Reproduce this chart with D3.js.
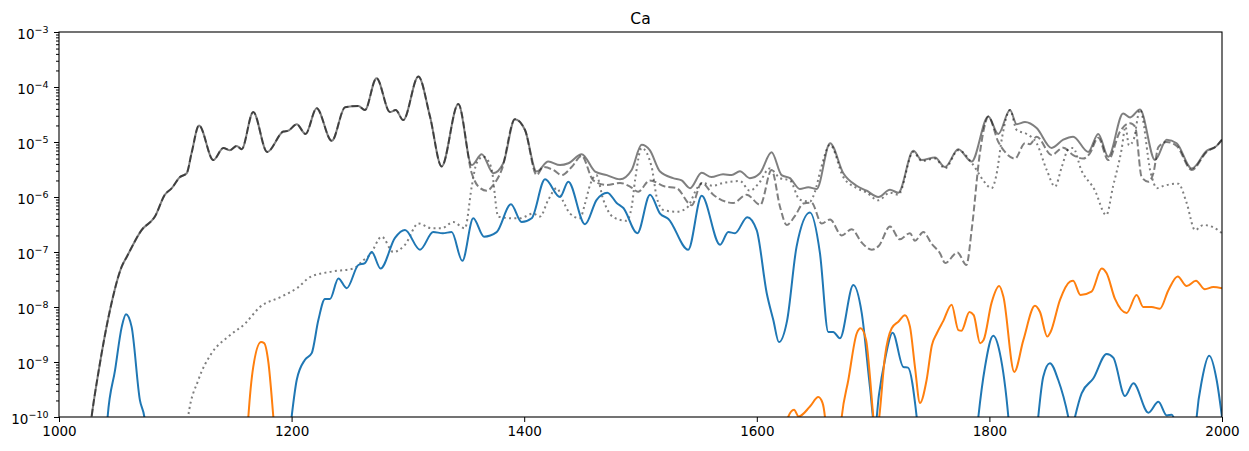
<html>
<head>
<script src="https://d3js.org/d3.v7.min.js"></script>
<style>
  body { margin: 0; background: white; }
  text { font-family: "DejaVu Sans", sans-serif; }
</style>
</head>
<body>
<svg id="chart" width="1249" height="451"></svg>
<script>
// shared start of the total and the dashed curve (they overlap until ~1345)
const sharedPts = [[1025, 3e-11], [1028, 1e-10], [1033.8, 6.3e-10], [1043.9, 8.9e-9], [1053.9, 5.4e-8], [1058.2, 8.1e-8],
  [1071, 2.5e-7], [1082.5, 4.4e-7], [1091, 1.1e-6], [1097, 1.45e-6], [1104, 2.3e-6], [1109.8, 2.7e-6], [1114, 6.3e-6],
  [1120.4, 2.0e-5], [1132.7, 4.7e-6], [1141.3, 7.8e-6], [1147, 7.1e-6], [1152.8, 8.5e-6], [1157, 7.4e-6], [1167, 3.5e-5],
  [1179, 6.6e-6], [1192.9, 1.55e-5], [1197, 1.6e-5], [1204.4, 2.1e-5], [1212, 1.4e-5], [1221.5, 4.1e-5], [1234.5, 1.05e-5],
  [1246, 4.3e-5], [1257.4, 4.5e-5], [1263, 3.8e-5], [1273, 1.45e-4], [1284.6, 3.5e-5], [1289.5, 3.8e-5], [1296, 2.5e-5],
  [1309, 1.55e-4], [1319, 2.9e-5], [1329, 3.6e-6], [1343.3, 4.9e-5]];

const totalTail = [[1354.9, 3.8e-6], [1363.5, 6.0e-6], [1373.4, 2.7e-6], [1382, 4.1e-6], [1392, 2.6e-5], [1400.7, 1.65e-5],
  [1410.7, 2.9e-6], [1420.7, 4.4e-6], [1430.8, 3.8e-6], [1438, 4.1e-6], [1449.4, 6.0e-6], [1461, 2.9e-6], [1471, 2.5e-6],
  [1482.4, 2.1e-6], [1492.4, 3.1e-6], [1501, 8.9e-6], [1508, 7.1e-6], [1516.8, 2.9e-6], [1528, 2.2e-6], [1535.4, 2.0e-6],
  [1542.6, 1.45e-6], [1552.6, 2.75e-6], [1561, 2.3e-6], [1571, 2.6e-6], [1578.4, 2.5e-6], [1585.5, 2.95e-6], [1594, 2.2e-6],
  [1602.7, 2.7e-6], [1612.7, 6.5e-6], [1621.3, 2.5e-6], [1628.5, 2.2e-6], [1637, 1.4e-6], [1644.3, 1.5e-6], [1651.5, 1.4e-6],
  [1663, 9.5e-6], [1674.4, 2.7e-6], [1685.8, 1.6e-6], [1694.5, 1.3e-6], [1704.5, 1.0e-6], [1714.5, 1.35e-6], [1721.7, 1.2e-6],
  [1734.6, 6.9e-6], [1741.8, 4.7e-6], [1753.2, 5.2e-6], [1761.8, 3.5e-6], [1773.3, 7.4e-6], [1784.7, 4.4e-6], [1799, 2.9e-5],
  [1807.7, 1.4e-5], [1817.7, 3.8e-5], [1823.5, 2.1e-5], [1830.6, 2.3e-5], [1840.6, 1.8e-5], [1853.5, 7.8e-6], [1863.5, 1.1e-5],
  [1872, 1.25e-5], [1885, 6.6e-6], [1893.6, 1.4e-5], [1902.2, 5.4e-6], [1915, 3.3e-5], [1921, 2.8e-5], [1929.5, 3.9e-5],
  [1942.4, 4.7e-6], [1952.4, 1.1e-5], [1961, 9.5e-6], [1974, 3.3e-6], [1986.8, 6.9e-6], [1995.4, 8.5e-6], [2000, 1.1e-5]];

const dashedTail = [[1354.9, 2.7e-6], [1360.6, 1.55e-6], [1367.8, 1.3e-6], [1373.4, 1.65e-6], [1380.6, 3.1e-6], [1392, 2.6e-5],
  [1400.7, 1.65e-5], [1410.7, 2.5e-6], [1416.4, 3.5e-6], [1425, 3.1e-6], [1432.2, 2.5e-6], [1440.8, 3.5e-6], [1449.4, 5.6e-6],
  [1459.4, 2.0e-6], [1470.9, 1.65e-6], [1482.4, 1.8e-6], [1491, 1.55e-6], [1498, 1.25e-6], [1508, 2.0e-6], [1521, 1.55e-6],
  [1531, 1.45e-6], [1544, 7.1e-7], [1552.6, 1.8e-6], [1562.6, 1.1e-6], [1579.8, 7.8e-7], [1591.3, 1.1e-6], [1603, 7.2e-7],
  [1612.7, 3.1e-6], [1620, 6.6e-7], [1625.7, 3.1e-7], [1633, 4.6e-7], [1640, 7.6e-7], [1647, 7.9e-7], [1655.8, 3.3e-7],
  [1663, 3.9e-7], [1673, 2.0e-7], [1681.6, 2.6e-7], [1690, 1.5e-7], [1698.8, 1.1e-7], [1705, 1.3e-7], [1714.5, 2.9e-7],
  [1723, 1.7e-7], [1731.7, 2.2e-7], [1736, 1.6e-7], [1743.2, 2.3e-7], [1750.4, 1.4e-7], [1757.5, 9.5e-8], [1762, 6.3e-8],
  [1772.5, 9.8e-8], [1780.2, 5.8e-8], [1785, 2.8e-7], [1791.5, 5.6e-6], [1796.5, 2.2e-5], [1799, 2.9e-5], [1807.7, 1.0e-5],
  [1813.4, 6.6e-6], [1822, 5.0e-6], [1830.6, 9.5e-6], [1834.9, 9.1e-6], [1840.6, 1.25e-5], [1853.5, 5.8e-6], [1863.5, 7.9e-6],
  [1872, 5.8e-6], [1880.6, 5.0e-6], [1886.4, 6.2e-6], [1893.6, 1.2e-5], [1902.2, 4.7e-6], [1912.3, 1.55e-5], [1921, 2.2e-5],
  [1925.3, 1.9e-5], [1930.9, 2.3e-6], [1936.6, 1.9e-6], [1941, 2.7e-6], [1945.3, 8.1e-6], [1952.4, 1.0e-5], [1961, 8.5e-6],
  [1974, 3.1e-6], [1986.8, 6.6e-6], [1995.4, 8.5e-6], [2000, 1.1e-5]];

const dottedPts = [[1108, 3e-11], [1111, 1e-10], [1119.8, 4.7e-10], [1131.3, 1.45e-9], [1145.6, 2.9e-9], [1160, 5.0e-9],
  [1172.8, 1.0e-8], [1191.5, 1.55e-8], [1205.8, 2.3e-8], [1215.8, 3.5e-8], [1234.5, 4.4e-8], [1253, 5.0e-8], [1261.7, 7.1e-8],
  [1267.4, 8.9e-8], [1277.5, 1.9e-7], [1287.4, 1.0e-7], [1297.5, 1.35e-7], [1309, 3.3e-7], [1320.4, 2.7e-7], [1329, 2.7e-7],
  [1339, 3.5e-7], [1349, 2.7e-7], [1354.9, 1.55e-6], [1359, 4.1e-6], [1364.8, 5.4e-6], [1371.6, 3.5e-6], [1377.7, 4.4e-7],
  [1390.6, 4.1e-7], [1396.4, 4.1e-7], [1407.8, 5.0e-7], [1413.6, 4.4e-7], [1420.7, 8.9e-7], [1428, 1.45e-6], [1433.6, 8.3e-7],
  [1439.4, 5.0e-7], [1448, 4.1e-7], [1452.3, 7.6e-7], [1456.6, 1.65e-6], [1462, 2.5e-6], [1468, 8.9e-7], [1476.6, 4.3e-7],
  [1488, 3.7e-7], [1492.4, 6.6e-7], [1495.3, 2.0e-6], [1501, 7.8e-6], [1509.6, 3.5e-6], [1513.9, 1.0e-6], [1519.6, 5.8e-7],
  [1531, 5.4e-7], [1539.7, 6.3e-7], [1549.7, 1.55e-6], [1554, 1.8e-6], [1562, 1.6e-6], [1571, 1.8e-6], [1585.5, 1.95e-6],
  [1594, 1.3e-6], [1602, 1.8e-6], [1611, 3.3e-6], [1620, 2.2e-6], [1628.5, 2.0e-6], [1637, 8.9e-7], [1645.7, 8.3e-7],
  [1650, 1.25e-6], [1655, 3.2e-6], [1663, 8.9e-6], [1674.4, 2.3e-6], [1685.8, 1.45e-6], [1694.5, 1.2e-6], [1704.5, 8.7e-7],
  [1714.5, 1.2e-6], [1721.7, 1.1e-6], [1734.6, 6.6e-6], [1741.8, 4.5e-6], [1753.2, 5.0e-6], [1761.8, 3.3e-6], [1773.3, 7.1e-6],
  [1784.7, 4.2e-6], [1789, 3.1e-6], [1794.7, 2.0e-6], [1801.9, 1.45e-6], [1806, 2.5e-6], [1811, 1.25e-5], [1817.7, 3.8e-5],
  [1823.5, 1.65e-5], [1832, 1.4e-5], [1840.6, 9.5e-6], [1849.3, 3.1e-6], [1856.4, 1.55e-6], [1862.2, 3.5e-6], [1867.9, 7.4e-6],
  [1872, 7.8e-6], [1879, 3.1e-6], [1890.5, 1.35e-6], [1900.5, 4.7e-7], [1906.3, 1.55e-6], [1913.7, 7.4e-6], [1917, 1.9e-5],
  [1920, 8.7e-6], [1924, 1.1e-5], [1929.5, 3.9e-5], [1938.8, 2.7e-6], [1944, 1.45e-6], [1950, 1.6e-6], [1962.4, 1.75e-6],
  [1969.6, 7.8e-7], [1976.8, 2.5e-7], [1984, 3.1e-7], [1992.7, 2.8e-7], [2000, 2.2e-7]];

const bluePts = [[1040, 3e-11], [1041.8, 1e-10], [1048.2, 7.1e-10], [1054, 4.4e-9], [1057.6, 7.4e-9], [1062.4, 4.4e-9],
  [1069.6, 2.0e-10], [1073.4, 1e-10], [1078, 1e-11], [1195, 1e-11], [1200, 1e-10], [1204.4, 4.7e-10], [1211.5, 1.1e-9],
  [1217.3, 1.45e-9], [1223, 5.8e-9], [1228.7, 1.4e-8], [1233, 1.4e-8], [1240.2, 3.3e-8], [1247.4, 2.2e-8], [1257.4, 5.8e-8],
  [1263, 6.3e-8], [1268.9, 1.0e-7], [1276.5, 5.0e-8], [1288.9, 1.8e-7], [1297.5, 2.5e-7], [1310.4, 1.1e-7], [1321.8, 2.3e-7],
  [1330, 2.2e-7], [1337.6, 2.3e-7], [1346.8, 6.9e-8], [1356.2, 4.1e-7], [1365.4, 1.9e-7], [1376.3, 2.3e-7], [1388.6, 7.4e-7],
  [1397.8, 3.5e-7], [1406.4, 4.1e-7], [1417.9, 2.1e-6], [1430.8, 1.0e-6], [1437.9, 1.9e-6], [1452.3, 3.2e-7], [1462.3, 8.9e-7],
  [1471.5, 1.2e-6], [1479.5, 7.8e-7], [1485.3, 6.3e-7], [1497.3, 2.2e-7], [1508.2, 1.1e-6], [1516.8, 5.0e-7], [1524, 4.0e-7],
  [1541, 1.1e-7], [1552.6, 1.05e-6], [1568.4, 1.35e-7], [1575.5, 2.3e-7], [1581.3, 2.2e-7], [1591.8, 4.3e-7], [1599.9, 2.5e-7],
  [1608.5, 1.8e-8], [1614.2, 5.8e-9], [1619, 2.3e-9], [1626, 5.6e-9], [1634.2, 1.25e-7], [1645.7, 5.2e-7], [1654.3, 9.5e-8],
  [1661.5, 3.5e-9], [1665.7, 3.5e-9], [1671.5, 2.7e-9], [1683, 2.5e-8], [1690.2, 7.8e-9], [1697.3, 3.5e-10], [1701.6, 6.3e-11],
  [1705, 2.5e-10], [1710.2, 1.1e-9], [1716.8, 3.4e-9], [1726, 8.1e-10], [1730, 7.9e-10], [1737.5, 1e-10], [1742, 1e-11],
  [1786, 1e-11], [1790.5, 1e-10], [1796.2, 8.1e-10], [1803.3, 3.0e-9], [1809, 1.45e-9], [1816.3, 1e-10], [1820, 1e-11],
  [1838, 1e-11], [1842, 1e-10], [1846.3, 5.4e-10], [1852, 9.5e-10], [1859.2, 4.7e-10], [1867.8, 1e-10], [1870.5, 5e-11],
  [1873.6, 1e-10], [1879.3, 2.7e-10], [1889.3, 5.0e-10], [1900.8, 1.4e-9], [1906.5, 1.2e-9], [1916.6, 2.4e-10], [1923.8, 4.1e-10],
  [1936.7, 1.2e-10], [1945.3, 1.9e-10], [1952.5, 1.07e-10], [1956.8, 1.1e-10], [1960, 8e-11], [1975, 1e-11], [1978.2, 1e-10],
  [1983, 5e-10], [1989, 1.3e-9], [1995.4, 4.7e-10], [2000, 1e-10]];

const orangePts = [[1160, 1e-11], [1162.8, 1e-10], [1167, 8.1e-10], [1173.7, 2.3e-9], [1176.4, 2.2e-9], [1180, 1.0e-9],
  [1184.3, 1e-10], [1188, 1e-11], [1622, 1e-11], [1627, 1e-10], [1632, 1.35e-10], [1636, 1.02e-10], [1645.7, 1.55e-10],
  [1652.9, 2.3e-10], [1656.5, 1.8e-10], [1658.6, 1e-10], [1662, 1e-11], [1669, 1e-11], [1673, 1e-10], [1678.7, 4.7e-10],
  [1685.9, 3.3e-9], [1689.3, 4.1e-9], [1694, 2.5e-9], [1697.3, 5.4e-10], [1700.2, 1e-10], [1702.7, 4e-11], [1705.3, 1e-10],
  [1710.2, 1.25e-9], [1716, 4.1e-9], [1721.7, 5.4e-9], [1727.4, 7.1e-9], [1731.7, 4.4e-9], [1736, 8.1e-10], [1740.3, 1.8e-10],
  [1746, 4.7e-10], [1750.5, 2.0e-9], [1754.7, 3.3e-9], [1760.4, 5.6e-9], [1767.5, 1.1e-8], [1773.3, 3.8e-9], [1776, 3.7e-9],
  [1782.8, 8.1e-9], [1786.5, 7.1e-9], [1792, 2.2e-9], [1795, 2.5e-9], [1801.9, 1.2e-8], [1808.4, 2.4e-8], [1812, 1.55e-8],
  [1821.4, 6.6e-10], [1829.2, 2.5e-9], [1839.2, 1.05e-8], [1843.5, 8.1e-9], [1849.8, 2.9e-9], [1852.6, 3.5e-9], [1860.7, 1.35e-8],
  [1869.3, 2.9e-8], [1872, 3.0e-8], [1878.3, 1.65e-8], [1887.8, 1.9e-8], [1896.5, 5.0e-8], [1900.8, 4.1e-8], [1908, 1.4e-8],
  [1918, 7.8e-9], [1926.6, 1.65e-8], [1932.3, 1.0e-8], [1939.5, 1.0e-8], [1946.6, 9.3e-9], [1953.8, 2.0e-8], [1961.9, 3.6e-8],
  [1969.6, 2.4e-8], [1977.6, 3.0e-8], [1985.3, 2.1e-8], [1992.5, 2.3e-8], [2000, 2.2e-8]];

const xTicks = [1000, 1200, 1400, 1600, 1800, 2000];
const yDecades = [-10, -9, -8, -7, -6, -5, -4, -3];
const title = "Ca";

const svg = d3.select("#chart");
const mLeft = 59, mRight = 1222, mTop = 32, mBottom = 417;

const x = d3.scaleLinear().domain([1000, 2000]).range([mLeft, mRight]);
const y = d3.scaleLog().domain([1e-10, 1e-3]).range([mBottom, mTop]);

svg.append("clipPath").attr("id", "plotclip")
  .append("rect").attr("x", mLeft).attr("y", mTop)
  .attr("width", mRight - mLeft).attr("height", mBottom - mTop);

const line = d3.line()
  .x(d => x(d[0]))
  .y(d => y(d[1]))
  .curve(d3.curveMonotoneX);

const series = [
  { pts: sharedPts.concat(totalTail), color: "#000", opacity: 0.5, dash: null },
  { pts: sharedPts.concat(dashedTail), color: "#000", opacity: 0.5, dash: "7,3" },
  { pts: dottedPts, color: "#000", opacity: 0.5, dash: "2,3.3" },
  { pts: bluePts, color: "#1f77b4", opacity: 1, dash: null },
  { pts: orangePts, color: "#ff7f0e", opacity: 1, dash: null }
];

const plot = svg.append("g").attr("clip-path", "url(#plotclip)");
series.forEach(s => {
  plot.append("path")
    .datum(s.pts)
    .attr("d", line)
    .attr("fill", "none")
    .attr("stroke", s.color)
    .attr("stroke-opacity", s.opacity)
    .attr("stroke-width", 2)
    .attr("stroke-dasharray", s.dash);
});

// x axis
const xAxis = svg.append("g")
  .attr("transform", `translate(0,${mBottom})`)
  .call(d3.axisBottom(x).tickValues(xTicks).tickSize(5).tickPadding(4).tickFormat(d3.format("d")));
xAxis.select(".domain").remove();
xAxis.selectAll("text").attr("font-size", 13.5).attr("font-family", "DejaVu Sans").attr("fill", "#000");
xAxis.selectAll("line").attr("stroke", "#000");

// y axis, minor ticks
const minors = [];
yDecades.slice(0, -1).forEach(e => {
  for (let k = 2; k <= 9; k++) minors.push(k * Math.pow(10, e));
});
const yMinor = svg.append("g")
  .attr("transform", `translate(${mLeft},0)`)
  .call(d3.axisLeft(y).tickValues(minors).tickSize(3).tickFormat(""));
yMinor.select(".domain").remove();
yMinor.selectAll("line").attr("stroke", "#000");

// y axis, major ticks with 10^n labels
const yMajor = svg.append("g")
  .attr("transform", `translate(${mLeft},0)`)
  .call(d3.axisLeft(y).tickValues(yDecades.map(e => Math.pow(10, e))).tickSize(5).tickFormat(""));
yMajor.select(".domain").remove();
yMajor.selectAll("line").attr("stroke", "#000");

const yLabels = svg.append("g");
yDecades.forEach(e => {
  const t = yLabels.append("text")
    .attr("x", 48.5)
    .attr("y", y(Math.pow(10, e)) + 6.5)
    .attr("text-anchor", "end")
    .attr("font-size", 13.5)
    .attr("fill", "#000");
  t.append("tspan").text("10");
  t.append("tspan").attr("dy", -6).attr("font-size", 9.5).text("\u2212" + Math.abs(e));
});

// frame
svg.append("rect")
  .attr("x", mLeft).attr("y", mTop)
  .attr("width", mRight - mLeft).attr("height", mBottom - mTop)
  .attr("fill", "none").attr("stroke", "#000").attr("stroke-width", 1.1);

svg.append("text")
  .attr("x", (mLeft + mRight) / 2)
  .attr("y", 24)
  .attr("text-anchor", "middle")
  .attr("font-size", 15.5)
  .attr("fill", "#000")
  .text(title);
</script>
</body>
</html>
